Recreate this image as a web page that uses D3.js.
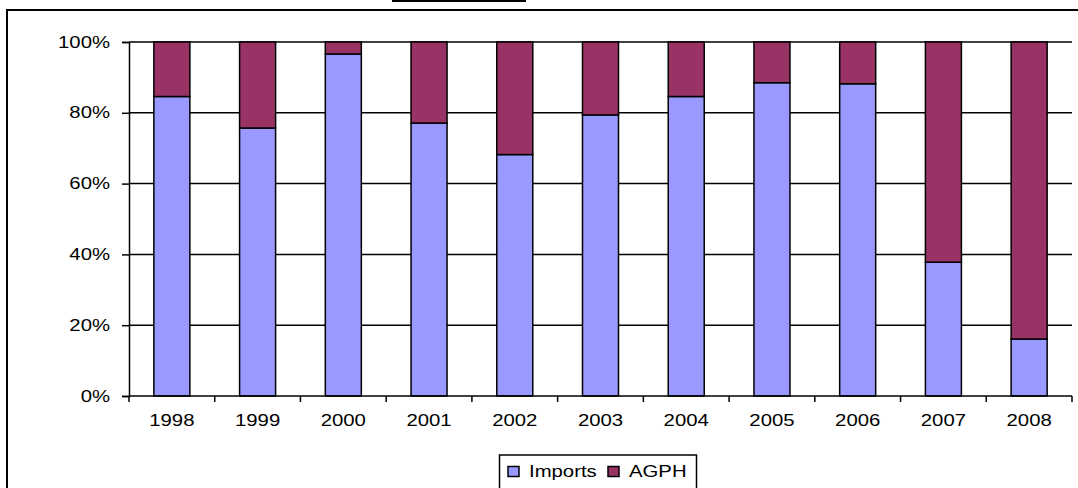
<!DOCTYPE html>
<html>
<head>
<meta charset="utf-8">
<script src="https://cdn.jsdelivr.net/npm/d3@7"></script>
<style>
  body { margin: 0; background: #fff; }
  svg text { font-family: "Liberation Sans", Arial, sans-serif; fill: #000; }
</style>
</head>
<body>
<div id="chart"></div>
<script>
// datos (porcentaje de Imports, AGPH es el resto)
const years = ["1998","1999","2000","2001","2002","2003","2004","2005","2006","2007","2008"];
const imports = [84.6, 75.7, 96.6, 77.1, 68.2, 79.4, 84.6, 88.5, 88.2, 37.8, 16.1];
const agph = [15.4, 24.3, 3.4, 22.9, 31.8, 20.6, 15.4, 11.5, 11.8, 62.2, 83.9];
const yTicks = [0, 20, 40, 60, 80, 100];
const seriesNames = ["Imports", "AGPH"];
const colors = ["#9999FF", "#993366"];

const width = 1078, height = 488;
const plotLeft = 129, plotRight = 1072, plotTop = 42, plotBottom = 396;
const stretch = 1.27; // el texto original está ensanchado

const svg = d3.select("#chart").append("svg")
    .attr("width", width)
    .attr("height", height);

// marco exterior y trozo del recuadro de título cortado arriba
svg.append("rect")
    .attr("x", 7).attr("y", 10)
    .attr("width", 1100).attr("height", 500)
    .attr("fill", "none").attr("stroke", "#000").attr("stroke-width", 2);
svg.append("line")
    .attr("x1", 392).attr("x2", 526)
    .attr("y1", 1).attr("y2", 1)
    .attr("stroke", "#000").attr("stroke-width", 2);

const x = d3.scaleBand().domain(years).range([plotLeft, plotRight])
    .paddingInner(0.58).paddingOuter(0.29);
const y = d3.scaleLinear().domain([0, 100]).range([plotBottom, plotTop]);

// líneas de cuadrícula
svg.append("g")
    .selectAll("line")
    .data(yTicks.filter(d => d > 0))
    .enter().append("line")
    .attr("x1", plotLeft).attr("x2", plotRight)
    .attr("y1", d => y(d)).attr("y2", d => y(d))
    .attr("stroke", "#000").attr("stroke-width", 1.5);

// barras apiladas
const rows = years.map((yr, i) => ({year: yr, Imports: imports[i], AGPH: agph[i]}));
const stack = d3.stack().keys(seriesNames)(rows);

svg.append("g")
    .selectAll("g")
    .data(stack)
    .enter().append("g")
    .attr("fill", (d, i) => colors[i])
    .selectAll("rect")
    .data(d => d)
    .enter().append("rect")
    .attr("x", d => x(d.data.year))
    .attr("y", d => y(d[1]))
    .attr("width", x.bandwidth())
    .attr("height", d => y(d[0]) - y(d[1]))
    .attr("stroke", "#000")
    .attr("stroke-width", 1.5);

// eje Y
const yAxis = svg.append("g")
    .attr("transform", `translate(${plotLeft},0)`)
    .call(d3.axisLeft(y).tickValues(yTicks).tickFormat(d => d + "%").tickSizeOuter(0).tickSize(7).tickPadding(12));
yAxis.select(".domain").attr("stroke", "#000").attr("stroke-width", 1.5);
yAxis.selectAll(".tick line").attr("stroke", "#000").attr("stroke-width", 1.5);
yAxis.selectAll("text").attr("font-size", 16).attr("font-family", "Liberation Sans, Arial, sans-serif").attr("fill", "#000");

// eje X: marcas entre categorías
const xAxis = svg.append("g").attr("transform", `translate(0,${plotBottom})`);
xAxis.append("line")
    .attr("x1", plotLeft).attr("x2", plotRight)
    .attr("stroke", "#000").attr("stroke-width", 1.5);
const step = x.step();
xAxis.selectAll("line.tk")
    .data(d3.range(years.length + 1))
    .enter().append("line")
    .attr("class", "tk")
    .attr("x1", i => plotLeft + i * step).attr("x2", i => plotLeft + i * step)
    .attr("y1", 0).attr("y2", 6)
    .attr("stroke", "#000").attr("stroke-width", 1.5);
xAxis.selectAll("text")
    .data(years)
    .enter().append("text")
    .attr("x", d => x(d) + x.bandwidth() / 2)
    .attr("y", 30)
    .attr("text-anchor", "middle")
    .attr("font-size", 16)
    .text(d => d);

// leyenda
const legend = svg.append("g");
legend.append("rect")
    .attr("x", 499.5).attr("y", 455)
    .attr("width", 197).attr("height", 40)
    .attr("fill", "#fff").attr("stroke", "#000").attr("stroke-width", 1.5);
const legX = [508, 608];
seriesNames.forEach((name, i) => {
    legend.append("rect")
        .attr("x", legX[i]).attr("y", 466.5)
        .attr("width", 11).attr("height", 10)
        .attr("fill", colors[i]).attr("stroke", "#000").attr("stroke-width", 1.5);
    legend.append("text")
        .attr("x", legX[i] + 21).attr("y", 477)
        .attr("font-size", 16)
        .text(name);
});

// ensanchar los textos como en el original
svg.selectAll("text").each(function() {
    const w = this.getComputedTextLength();
    d3.select(this).attr("textLength", w * stretch).attr("lengthAdjust", "spacingAndGlyphs");
});
</script>
</body>
</html>
